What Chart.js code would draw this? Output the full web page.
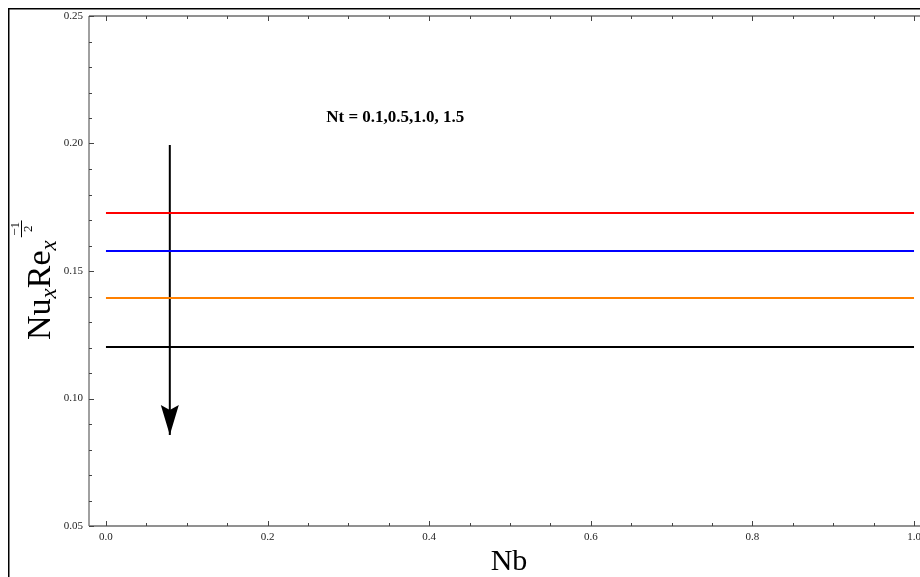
<!DOCTYPE html>
<html>
<head>
<meta charset="utf-8">
<script src="https://cdn.jsdelivr.net/npm/chart.js@4.4.1/dist/chart.umd.min.js"></script>
<style>
  html, body { margin: 0; padding: 0; background: #fff; overflow: hidden; }
  #wrap { position: relative; width: 920px; height: 577px; }
</style>
</head>
<body>
<div id="wrap"><canvas id="chart" width="920" height="577"></canvas></div>
<script>
/* Nusselt number vs Nb for four values of Nt (curves are flat in Nb). */

const nbValues = [0, 1];
const ntLabels = ["Nt = 0.1", "Nt = 0.5", "Nt = 1.0", "Nt = 1.5"];
const nuNt01 = [0.1727, 0.1727];
const nuNt05 = [0.1578, 0.1578];
const nuNt10 = [0.1394, 0.1394];
const nuNt15 = [0.1202, 0.1202];
const lineColors = ["#ff0000", "#0000ff", "#ff8000", "#000000"];

const xTicks = [0, 0.2, 0.4, 0.6, 0.8, 1.0];
const xTickLabels = ["0.0", "0.2", "0.4", "0.6", "0.8", "1.0"];
const yTicks = [0.05, 0.10, 0.15, 0.20, 0.25];
const yTickLabels = ["0.05", "0.10", "0.15", "0.20", "0.25"];

// arrow for increasing Nt, and its note
const arrowNb = [0.079, 0.079];
const arrowNu = [0.1994, 0.0857];
const noteText = "Nt = 0.1,0.5,1.0, 1.5";
const notePos = { nb: 0.358, nu: 0.2084 };

const serif = "'Liberation Serif', 'Times New Roman', serif";
const axisGray = "#6e6e6e";

function minorList(lo, hi, step) {
  const out = [];
  const n = Math.round((hi - lo) / step);
  for (let i = 0; i <= n; i++) out.push(+(lo + i * step).toFixed(4));
  return out;
}
const xMinor = minorList(0, 1, 0.05);
const yMinor = minorList(0.05, 0.25, 0.01);

function isMajor(v, majors) {
  return majors.some((m) => Math.abs(m - v) < 1e-6);
}

// Mathematica-style axes: gray lines, inward ticks, outer black frame.
const mathAxes = {
  id: "mathAxes",
  beforeDatasetsDraw(chart) {
    const { ctx, chartArea: a, scales } = chart;
    const xs = scales.x, ys = scales.y;
    ctx.save();

    // outer frame
    ctx.strokeStyle = "#000";
    ctx.lineWidth = 1.5;
    ctx.beginPath();
    ctx.moveTo(8.75, chart.height);
    ctx.lineTo(8.75, 8.75);
    ctx.lineTo(chart.width, 8.75);
    ctx.stroke();

    // axis lines
    ctx.strokeStyle = axisGray;
    ctx.lineWidth = 1.3;
    ctx.beginPath();
    ctx.moveTo(a.left, a.top);
    ctx.lineTo(a.left, a.bottom);
    ctx.moveTo(a.left, a.bottom);
    ctx.lineTo(chart.width, a.bottom);
    ctx.moveTo(a.left, a.top);
    ctx.lineTo(chart.width, a.top);
    ctx.stroke();

    // ticks
    ctx.lineWidth = 1;
    ctx.strokeStyle = "#444";
    ctx.beginPath();
    xMinor.forEach((v) => {
      const px = Math.round(xs.getPixelForValue(v)) + 0.5;
      const len = isMajor(v, xTicks) ? 5 : 3;
      ctx.moveTo(px, a.bottom);
      ctx.lineTo(px, a.bottom - len);
      ctx.moveTo(px, a.top);
      ctx.lineTo(px, a.top + len);
    });
    yMinor.forEach((v) => {
      const py = Math.round(ys.getPixelForValue(v)) + 0.5;
      const len = isMajor(v, yTicks) ? 5 : 3;
      ctx.moveTo(a.left, py);
      ctx.lineTo(a.left + len, py);
    });
    ctx.stroke();
    ctx.restore();
  },
  afterDatasetsDraw(chart) {
    const { ctx, scales } = chart;
    const xs = scales.x, ys = scales.y;
    ctx.save();

    // arrow head at the end of the arrow dataset
    const meta = chart.getDatasetMeta(4);
    const tip = meta.data[meta.data.length - 1];
    ctx.fillStyle = "#000";
    ctx.beginPath();
    ctx.moveTo(tip.x, tip.y);
    ctx.lineTo(tip.x - 9, tip.y - 30);
    ctx.lineTo(tip.x, tip.y - 25);
    ctx.lineTo(tip.x + 9, tip.y - 30);
    ctx.closePath();
    ctx.fill();

    // Nt note
    ctx.font = "bold 17px " + serif;
    ctx.textAlign = "center";
    ctx.textBaseline = "alphabetic";
    ctx.fillText(noteText, xs.getPixelForValue(notePos.nb), ys.getPixelForValue(notePos.nu));

    // x title
    ctx.font = "30px " + serif;
    ctx.fillText("Nb", 509, 570);

    // y title: Nu_x Re_x^(-1/2), rotated
    ctx.translate(50, 340);
    ctx.rotate(-Math.PI / 2);
    ctx.textAlign = "left";
    let x = 0;
    const main = "34px " + serif;
    const sub = "italic 23px " + serif;
    const put = (txt, font, dy) => {
      ctx.font = font;
      ctx.fillText(txt, x, dy);
      x += ctx.measureText(txt).width;
    };
    put("Nu", main, 0);
    put("x", sub, 6);
    put("Re", main, 0);
    put("x", sub, 6);
    x += 3;
    ctx.font = "13px " + serif;
    const num = "\u22121", den = "2";
    const fw = Math.max(ctx.measureText(num).width, ctx.measureText(den).width) + 3;
    ctx.textAlign = "center";
    ctx.fillText(num, x + fw / 2, -31);
    ctx.fillText(den, x + fw / 2, -18);
    ctx.fillRect(x, -29, fw, 1);
    ctx.restore();
  },
};

const flat = (vals) => nbValues.map((nb, i) => ({ x: nb, y: vals[i] }));

const datasets = [nuNt01, nuNt05, nuNt10, nuNt15].map((vals, i) => ({
  label: ntLabels[i],
  data: flat(vals),
  borderColor: lineColors[i],
  borderWidth: 2,
  pointRadius: 0,
  fill: false,
}));
datasets.push({
  label: "arrow",
  data: arrowNb.map((nb, i) => ({ x: nb, y: arrowNu[i] })),
  borderColor: "#000",
  borderWidth: 2,
  pointRadius: 0,
  fill: false,
});

new Chart(document.getElementById("chart").getContext("2d"), {
  type: "line",
  data: { datasets },
  options: {
    responsive: false,
    animation: false,
    layout: { padding: { top: 16, right: 0, left: 0, bottom: 0 } },
    plugins: { legend: { display: false }, tooltip: { enabled: false } },
    scales: {
      x: {
        type: "linear",
        min: -0.021,
        max: 1.0074,
        afterBuildTicks: (axis) => { axis.ticks = xTicks.map((v) => ({ value: v })); },
        afterFit: (s) => { s.height = 51; s.paddingRight = 0; s.paddingLeft = 0; },
        grid: { display: false, drawTicks: false },
        border: { display: false },
        ticks: {
          autoSkip: false,
          maxRotation: 0,
          padding: 5,
          color: "#222",
          font: { family: serif, size: 11 },
          callback: (v, i) => xTickLabels[i],
        },
      },
      y: {
        type: "linear",
        min: 0.05,
        max: 0.25,
        afterBuildTicks: (axis) => { axis.ticks = yTicks.map((v) => ({ value: v })); },
        afterFit: (s) => { s.width = 89; },
        grid: { display: false, drawTicks: false },
        border: { display: false },
        ticks: {
          autoSkip: false,
          padding: 6,
          color: "#222",
          font: { family: serif, size: 11 },
          callback: (v, i) => yTickLabels[i],
        },
      },
    },
  },
  plugins: [mathAxes],
});
</script>
</body>
</html>
